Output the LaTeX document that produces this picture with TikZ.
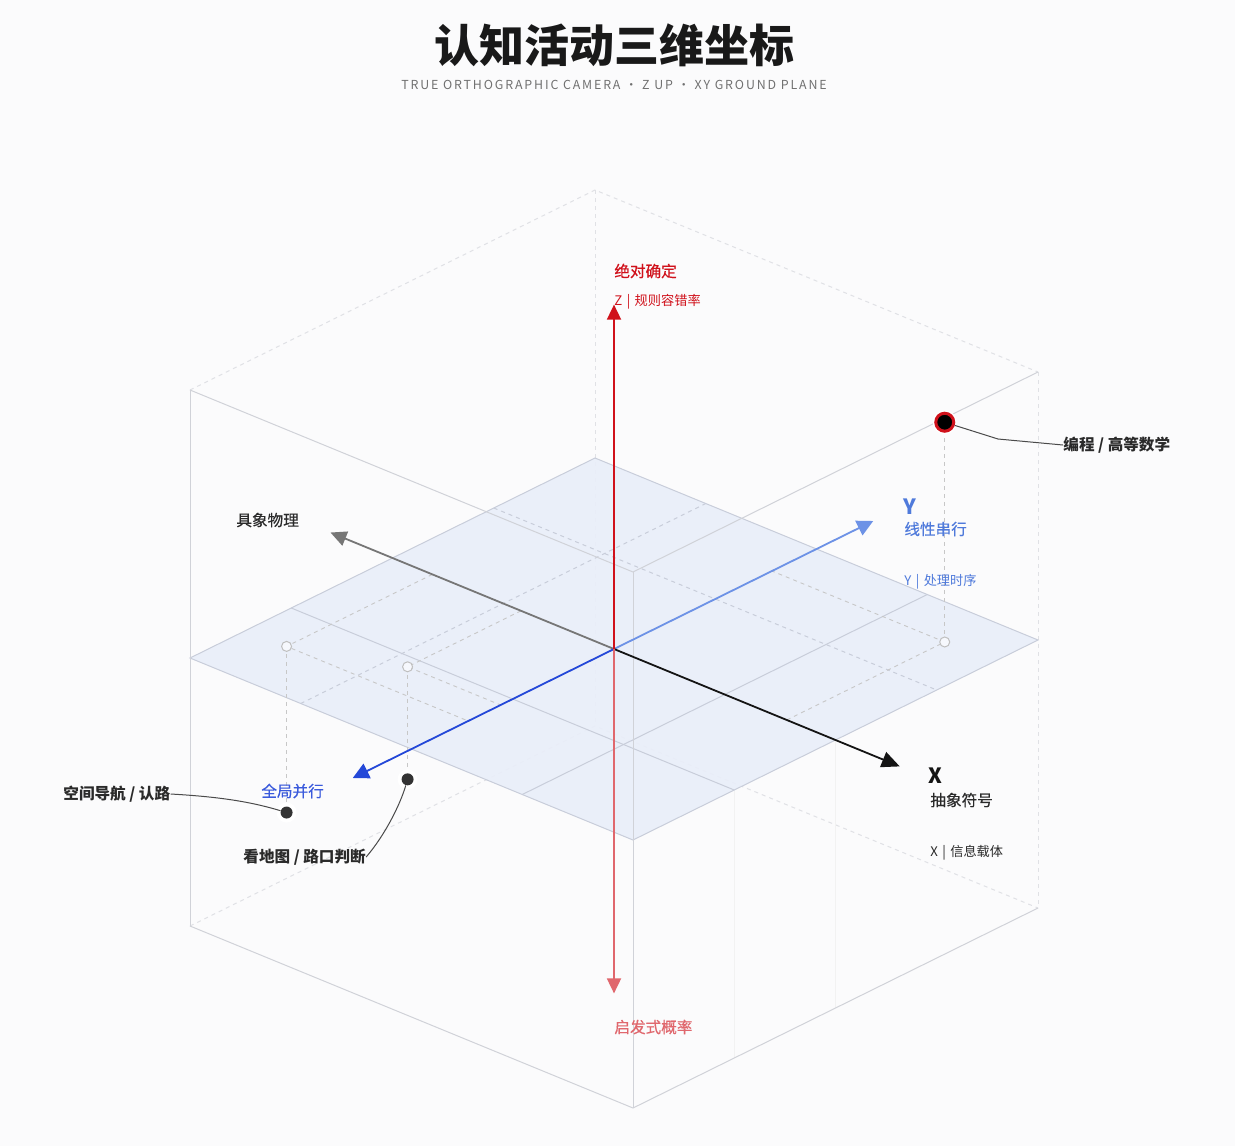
\documentclass[tikz,border=0pt]{standalone}
\usepackage{fontspec}
\setmainfont{Noto Sans CJK SC}
\newfontfamily\medfont{Noto Sans CJK SC}[FakeBold=0.5]
\usetikzlibrary{arrows.meta}
\definecolor{bgc}{HTML}{FBFBFC}
\definecolor{edgec}{HTML}{D0D2D8}
\definecolor{dashc}{HTML}{E0E1E5}
\definecolor{planef}{HTML}{E9EEF9}
\definecolor{planee}{HTML}{C8CDDA}
\definecolor{zred}{HTML}{D0111B}
\definecolor{zredl}{HTML}{E0676D}
\definecolor{xblk}{HTML}{141414}
\definecolor{xgry}{HTML}{767676}
\definecolor{ydark}{HTML}{2448D8}
\definecolor{ylight}{HTML}{6D92E6}
\definecolor{ylab}{HTML}{4F7ADB}
\definecolor{txtd}{HTML}{2A2A2A}
\definecolor{subc}{HTML}{707070}
\begin{document}
\begin{tikzpicture}[x=0.5pt,y=-0.5pt,
  lbl/.style={inner sep=0pt, anchor=west, font=\fontsize{7.8}{9}\selectfont\medfont},
  lblb/.style={inner sep=0pt, anchor=west, font=\fontsize{7.8}{9}\selectfont\bfseries},
  small/.style={inner sep=0pt, anchor=west, font=\fontsize{6.6}{8}\selectfont},
  axl/.style={inner sep=0pt, anchor=west, font=\fontsize{10.5}{12}\selectfont\bfseries},
  solidedge/.style={draw=edgec, line width=0.5pt},
  dashedge/.style={draw=dashc, line width=0.5pt, dash pattern=on 2pt off 2pt},
  gridsolid/.style={draw=planee, line width=0.5pt},
  griddash/.style={draw=planee, line width=0.5pt, dash pattern=on 2pt off 2pt},
  projdash/.style={draw=black!22, line width=0.45pt, dash pattern=on 2pt off 2pt},
  leader/.style={draw=txtd!85, line width=0.5pt},
  hollow/.style={circle, draw=black!25, fill=white!60!planef, line width=0.5pt, minimum size=5pt, inner sep=0pt},
  blackdot/.style={circle, fill=black!80, minimum size=6pt, inner sep=0pt},
  halo/.style={circle, fill=white, minimum size=10pt, inner sep=0pt},
]
\fill[bgc] (0,0) rectangle (1235,1146);
\useasboundingbox (0,0) rectangle (1235,1146);

% title
\node[inner sep=0pt, font=\fontsize{22.5}{26}\selectfont\bfseries, text=black!90] (title) at (614,45) {认知活动三维坐标};
\node[inner sep=0pt, font=\fontsize{6.2}{7}\selectfont\addfontfeature{LetterSpace=15}, text=subc] (subtitle) at (614,85) {TRUE ORTHOGRAPHIC CAMERA · Z UP · XY GROUND PLANE};

\begin{scope}[shift={(307pt,-324.5pt)}, x={(110.75pt,-45.5pt)}, y={(101.25pt,50pt)}, z={(0pt,134pt)}]
  % cube corners
  \coordinate (LTp) at (-1,-1,1);  \coordinate (LBt) at (-1,-1,-1);
  \coordinate (FTp) at (1,-1,1);   \coordinate (FBt) at (1,-1,-1);
  \coordinate (RTp) at (1,1,1);    \coordinate (RBt) at (1,1,-1);
  \coordinate (BTp) at (-1,1,1);   \coordinate (BBt) at (-1,1,-1);
  % plane corners
  \coordinate (PL) at (-1,-1,0); \coordinate (PF) at (1,-1,0);
  \coordinate (PR) at (1,1,0);   \coordinate (PB) at (-1,1,0);
  % hidden edges
  \draw[dashedge] (LTp) -- (BTp) -- (RTp);
  \draw[dashedge] (LBt) -- (BBt) -- (RBt);
  \draw[dashedge] (BTp) -- (BBt);
  \draw[dashedge] (RTp) -- (RBt);
  % faint verticals on front-right face
  \coordinate (fv1t) at (1,-0.5,0); \coordinate (fv1b) at (1,-0.5,-1);
  \coordinate (fv2t) at (1,0,0);    \coordinate (fv2b) at (1,0,-1);
  \draw[draw=black!5, line width=0.5pt] (fv1t) -- (fv1b);
  \draw[draw=black!5, line width=0.5pt] (fv2t) -- (fv2b);
  % plane
  \fill[planef, opacity=0.9] (PL) -- (PF) -- (PR) -- (PB) -- cycle;
  \draw[gridsolid] (PL) -- (PF) -- (PR) -- (PB) -- cycle;
  % grid
  \coordinate (g1a) at (-1,-0.5,0); \coordinate (g1b) at (1,-0.5,0);
  \coordinate (g2a) at (0.5,-1,0);  \coordinate (g2b) at (0.5,1,0);
  \coordinate (g3a) at (-0.5,-1,0); \coordinate (g3b) at (-0.5,1,0);
  \coordinate (g4a) at (-1,0.5,0);  \coordinate (g4b) at (1,0.5,0);
  \draw[gridsolid] (g1a) -- (g1b);
  \draw[gridsolid] (g2a) -- (g2b);
  \draw[griddash] (g3a) -- (g3b);
  \draw[griddash] (g4a) -- (g4b);
  % visible cube edges
  \draw[solidedge] (LTp) -- (FTp) -- (RTp);
  \draw[solidedge] (LBt) -- (FBt) -- (RBt);
  \draw[solidedge] (LTp) -- (LBt);
  \draw[solidedge] (FTp) -- (FBt);
  % points and projections
  \coordinate (g1) at (0.78,0.78,0);   \coordinate (q1) at (0.78,0.78,0.82);
  \coordinate (g1x) at (0.78,0,0);     \coordinate (g1y) at (0,0.78,0);
  \coordinate (g2) at (-0.82,-0.72,0); \coordinate (q2) at (-0.82,-0.72,-0.62);
  \coordinate (g2x) at (-0.82,0,0);    \coordinate (g2y) at (0,-0.72,0);
  \coordinate (g3) at (-0.42,-0.56,0); \coordinate (q3) at (-0.42,-0.56,-0.42);
  \coordinate (g3x) at (-0.42,0,0);    \coordinate (g3y) at (0,-0.56,0);
  \draw[projdash] (g1x) -- (g1) -- (g1y);  \draw[projdash] (g1) -- (q1);
  \draw[projdash] (g2x) -- (g2) -- (g2y);  \draw[projdash] (g2) -- (q2);
  \draw[projdash] (g3x) -- (g3) -- (g3y);  \draw[projdash] (g3) -- (q3);
  % axes
  \coordinate (O) at (0,0,0);
  \coordinate (Xp) at (1.29,0,0);  \coordinate (Xm) at (-1.28,0,0);
  \coordinate (Yp) at (0,1.28,0);  \coordinate (Ym) at (0,-1.29,0);
  \coordinate (Zp) at (0,0,1.285); \coordinate (Zm) at (0,0,-1.285);
\end{scope}

\draw[xgry, line width=0.9pt, -{Triangle[length=8pt,width=7.5pt]}] (O) -- (Xm);
\draw[ylight, line width=0.9pt, -{Triangle[length=8pt,width=8pt]}] (O) -- (Yp);
\draw[ydark, line width=0.9pt, -{Triangle[length=8pt,width=8pt]}] (O) -- (Ym);
\draw[xblk, line width=0.9pt, -{Triangle[length=9pt,width=8pt]}] (O) -- (Xp);
\draw[zredl, line width=0.9pt, -{Triangle[length=7.5pt,width=7pt]}] (O) -- (Zm);
\draw[zred, line width=0.9pt, -{Triangle[length=7.5pt,width=7pt]}] (O) -- (Zp);

% ground markers
\node[hollow] (h1) at (g1) {};
\node[hollow] (h2) at (g2) {};
\node[hollow] (h3) at (g3) {};
% data points
\node[halo] (a2) at (q2) {};
\node[halo] (a3) at (q3) {};
\node[blackdot] (p2) at (q2) {};
\node[blackdot] (p3) at (q3) {};
\node[circle, fill=white, minimum size=12pt, inner sep=0pt] (a1) at (q1) {};
\node[circle, fill=black, draw=zred, line width=1.5pt, minimum size=9pt, inner sep=0pt] (p1) at (q1) {};

% labels
\node[lbl, text=zred] (zt) at (614,271) {绝对确定};
\node[small, text=zred] (zs) at (614,302) {Z\,\,|\,\,规则容错率};
\node[lbl, text=zredl] (zb) at (614,1027) {启发式概率};
\node[lbl, text=txtd] (xm) at (236,520) {具象物理};
\node[axl, text=ylab] (yl) at (903,507) {Y};
\node[lbl, text=ylab] (yt) at (904,529) {线性串行};
\node[small, text=ylab] (ys) at (904,582) {Y\,\,|\,\,处理时序};
\node[axl, text=xblk] (xl) at (928,776) {X};
\node[lbl, text=txtd] (xt) at (930,800) {抽象符号};
\node[small, text=txtd] (xs) at (930,853) {X\,\,|\,\,信息载体};
\node[lbl, text=ydark!90] (ym) at (261,791) {全局并行};
\node[lblb, text=txtd] (l1) at (1063,445) {编程 / 高等数学};
\node[lblb, text=txtd] (l2) at (63,794) {空间导航 / 认路};
\node[lblb, text=txtd] (l3) at (243,857) {看地图 / 路口判断};

% leaders
\coordinate (k1) at (998,439);
\draw[leader] (p1) -- (k1) -- (l1.west);
\draw[leader] (l2.east) .. controls (225,797) and (255,803) .. (p2);
\draw[leader] (l3.east) .. controls (385,835) and (400,805) .. (p3);
\end{tikzpicture}
\end{document}
